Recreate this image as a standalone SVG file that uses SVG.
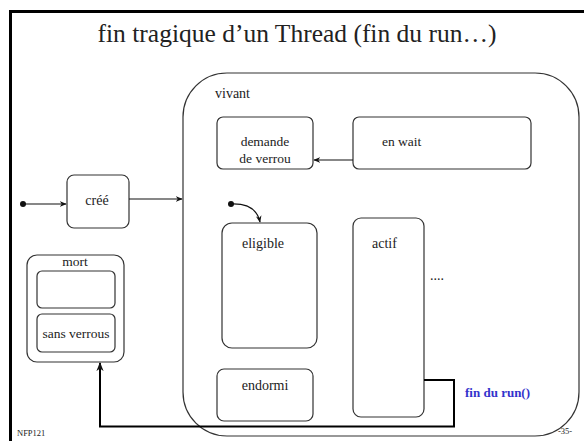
<svg xmlns="http://www.w3.org/2000/svg" width="584" height="441" viewBox="0 0 584 441">
<defs>
<style>
.st{fill:#fff;stroke:#333;stroke-width:1.2}
.t{font-family:"Liberation Serif","Times New Roman",serif;fill:#222}
.c{fill:none;stroke:#111;stroke-width:1.2}
</style>
<marker id="ah" viewBox="0 0 10 10" refX="9" refY="5" markerWidth="7" markerHeight="7" orient="auto" markerUnits="userSpaceOnUse">
<path d="M0,1 L10,5 L0,9 L3,5 Z" fill="#111"/>
</marker>
<marker id="ahb" viewBox="0 0 10 10" refX="9" refY="5" markerWidth="9" markerHeight="9" orient="auto" markerUnits="userSpaceOnUse">
<path d="M0,1 L10,5 L0,9 L3,5 Z" fill="#111"/>
</marker>
</defs>
<rect width="584" height="441" fill="#fff"/>
<path d="M10.5 441 V11.5 H584" fill="none" stroke="#000" stroke-width="3"/>
<text class="t" x="297" y="42" font-size="25.5" text-anchor="middle">fin tragique d’un Thread (fin du run…)</text>

<g id="vivant">
<rect class="st" x="183" y="73" width="396" height="363" rx="44"/>
<text class="t" x="215" y="98" font-size="14">vivant</text>
</g>
<g id="demande">
<rect class="st" x="217" y="117" width="96" height="52" rx="6"/>
<text class="t" x="265" y="146" font-size="13.5" text-anchor="middle">demande</text>
<text class="t" x="265" y="163" font-size="13.5" text-anchor="middle">de verrou</text>
</g>
<g id="enwait">
<rect class="st" x="353" y="117" width="178" height="52" rx="6"/>
<text class="t" x="382" y="146" font-size="13.5">en wait</text>
</g>
<g id="cree">
<rect class="st" x="67" y="175" width="62" height="53" rx="7"/>
<text class="t" x="97" y="205" font-size="14" text-anchor="middle">créé</text>
</g>
<g id="eligible">
<rect class="st" x="222" y="223" width="95" height="125" rx="10"/>
<text class="t" x="242" y="248" font-size="14">eligible</text>
</g>
<g id="actif">
<rect class="st" x="353" y="218" width="71" height="199" rx="8"/>
<text class="t" x="372" y="248" font-size="14">actif</text>
<text class="t" x="430" y="280" font-size="14">....</text>
</g>
<g id="endormi">
<rect class="st" x="217" y="369" width="96" height="52" rx="7"/>
<text class="t" x="265" y="390" font-size="14" text-anchor="middle">endormi</text>
</g>
<g id="mort">
<rect class="st" x="27" y="255" width="97" height="107" rx="10"/>
<text class="t" x="75" y="266" font-size="13.5" text-anchor="middle">mort</text>
<rect class="st" x="37" y="271" width="78" height="37" rx="5"/>
<rect class="st" x="37" y="314" width="78" height="38" rx="5"/>
<text class="t" x="76" y="338" font-size="13.5" text-anchor="middle">sans verrous</text>
</g>

<g id="connectors">
<circle cx="23" cy="204" r="3" fill="#111"/>
<path class="c" d="M23 204 H66" marker-end="url(#ah)"/>
<path class="c" d="M129 199 H182" marker-end="url(#ah)"/>
<path class="c" d="M353 160 H314" marker-end="url(#ah)"/>
<circle cx="231" cy="204" r="3" fill="#111"/>
<path class="c" d="M231 204 Q256 203 260 222" marker-end="url(#ah)"/>
<path d="M424 380 H454 V426.5 H100 V363" fill="none" stroke="#000" stroke-width="2" marker-end="url(#ahb)"/>
</g>

<text x="465" y="397" font-family="'Liberation Serif','Times New Roman',serif" font-size="13" font-weight="bold" fill="#3333cc">fin du run()</text>
<text class="t" x="17" y="436" font-size="8.5">NFP121</text>
<text class="t" x="558" y="434" font-size="8.5">-35-</text>
</svg>
